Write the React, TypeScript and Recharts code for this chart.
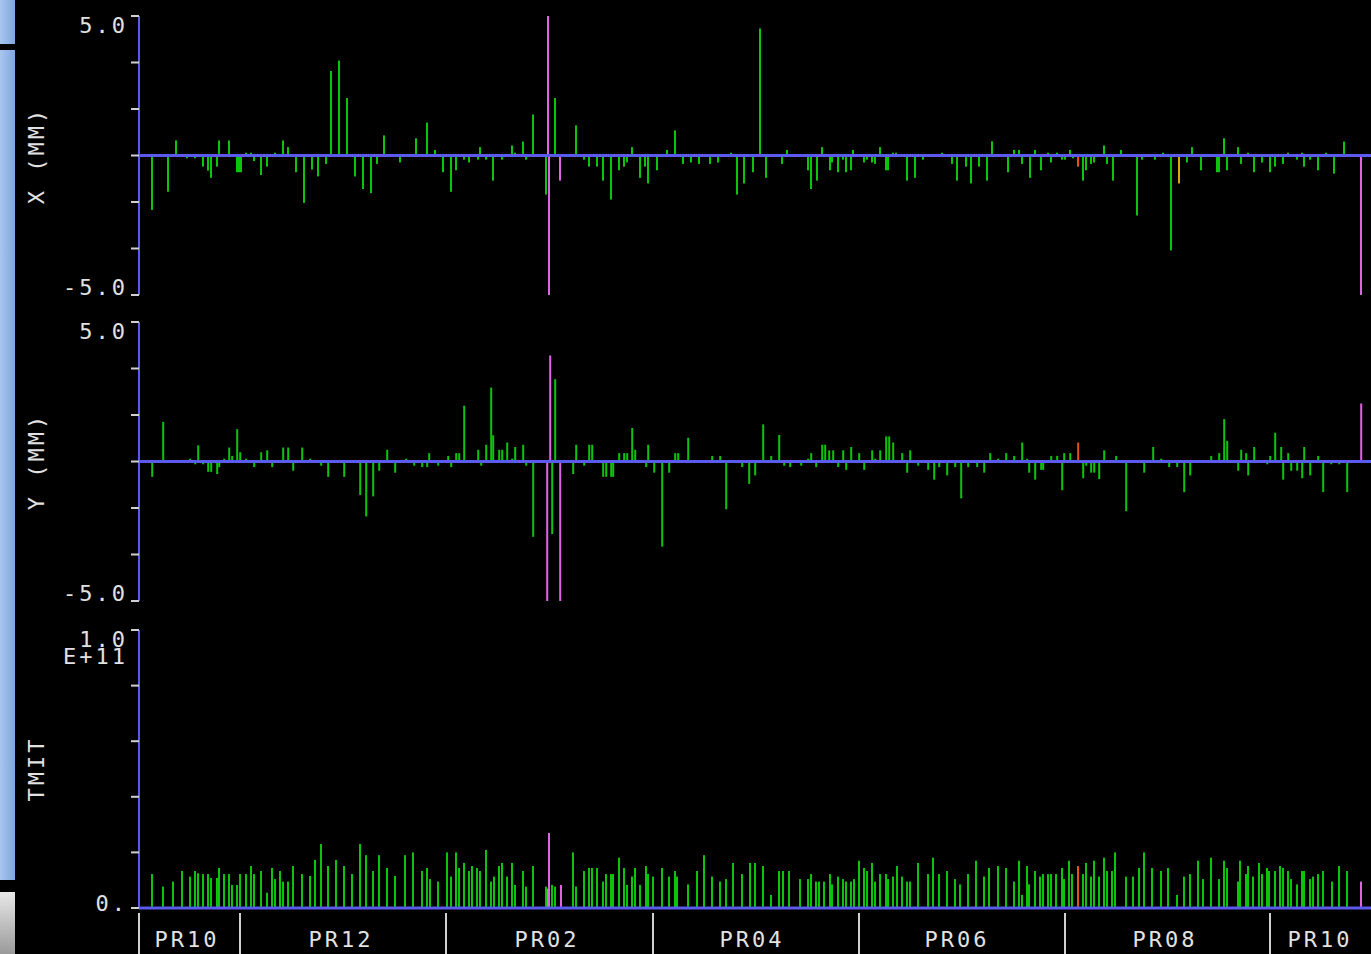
import React from "react";
import { BarChart, Bar, XAxis, YAxis, Cell, ReferenceLine, Label } from "recharts";

// ---------- data ----------
const S_MAX = 1232;
const prBoundaries = [0, 101, 307, 514, 720, 926, 1131];
const prCenters = [48, 202, 408, 613, 818, 1026, 1181];
const prNames = ["PR10", "PR12", "PR02", "PR04", "PR06", "PR08", "PR10"];

type Reading = [number, number];

// X position (mm) per BPM location s
const xReadings: Reading[] = [
  [13,-1.95],[29,-1.3],[37,0.54],[48,-0.1],[56,-0.1],[64,-0.4],[69,-0.54],[72,-0.8],[78,-0.4],[80,0.54],[90,0.54],[98,-0.6],[100,-0.6],[102,-0.6],[107,0.1],[112,0.1],[115,-0.2],[122,-0.7],[128,-0.4],[136,0.1],[144,0.54],[149,0.3],[157,-0.6],[165,-1.7],[173,-0.5],[179,-0.75],[187,-0.3],[192,3.03],[200,3.4],[208,2.06],[216,-0.75],[224,-1.2],[232,-1.35],[238,-0.3],[245,0.72],[253,0.05],[261,-0.25],[277,0.62],[288,1.18],[296,0.2],[304,-0.6],[312,-1.3],[317,-0.53],[325,-0.15],[330,-0.25],[339,-0.15],[341,0.3],[347,-0.15],[354,-0.9],[363,-0.15],[368,0.05],[373,0.36],[376,0.1],[384,0.5],[387,-0.15],[394,1.47],[407,-1.4],[409,5],[410,-5],[416,2.06],[421,-0.9],[437,1.08],[445,-0.15],[450,-0.4],[458,-0.4],[464,-0.9],[472,-1.58],[480,-0.53],[485,-0.4],[488,-0.25],[493,0.3],[501,-0.8],[506,-0.4],[509,-1.0],[518,-0.53],[528,0.2],[536,0.9],[544,-0.3],[552,-0.25],[560,-0.3],[571,-0.3],[579,-0.25],[592,0.1],[598,-1.4],[605,-1.0],[614,-0.6],[621,4.55],[627,-0.8],[643,-0.3],[648,0.2],[656,0.05],[669,-0.53],[672,-1.2],[678,-0.9],[683,0.3],[691,-0.53],[693,-0.25],[699,-0.6],[704,-0.15],[707,-0.6],[712,-0.53],[714,0.2],[725,-0.25],[728,-0.15],[733,-0.25],[736,-0.3],[741,0.3],[747,-0.53],[749,-0.53],[754,0.1],[757,0.1],[768,-0.9],[776,-0.8],[784,-0.15],[803,0.1],[813,-0.3],[818,-0.9],[827,-0.4],[832,-1.0],[840,-0.4],[848,-0.9],[853,0.51],[869,-0.6],[875,0.2],[880,0.2],[883,-0.3],[891,-0.8],[896,0.2],[902,-0.53],[904,0.05],[909,0.1],[912,-0.25],[918,0.1],[923,-0.15],[926,-0.15],[931,0.2],[934,-0.1],[939,-0.4],[944,-0.9],[947,-0.53],[952,-0.3],[955,-0.25],[965,0.36],[968,-0.3],[974,-0.9],[982,0.2],[990,0.05],[998,-2.15],[1003,-0.15],[1016,-0.15],[1024,0.1],[1032,-3.4],[1040,-1.0],[1048,-0.25],[1053,0.3],[1062,-0.53],[1067,0.05],[1078,-0.6],[1080,-0.6],[1085,0.62],[1088,-0.53],[1099,0.3],[1102,-0.3],[1109,0.1],[1115,-0.6],[1123,-0.25],[1131,-0.6],[1136,-0.4],[1144,-0.3],[1149,0.1],[1158,-0.15],[1163,0.1],[1165,-0.4],[1171,-0.15],[1179,-0.53],[1187,0.1],[1195,-0.65],[1205,0.5],[1222,-5],
];

// Y position (mm)
const yReadings: Reading[] = [
  [13,-0.55],[24,1.42],[34,0.05],[43,0.03],[51,0.1],[56,-0.1],[59,0.58],[64,-0.1],[69,-0.37],[72,-0.37],[78,-0.45],[80,-0.2],[85,0.1],[90,0.5],[93,0.2],[98,1.16],[101,0.33],[107,0.1],[115,-0.2],[122,0.33],[128,0.4],[133,-0.2],[144,0.5],[149,0.5],[154,-0.33],[163,0.5],[171,0.1],[176,0.03],[182,-0.15],[189,-0.55],[197,0.03],[205,-0.55],[221,-1.2],[227,-1.97],[234,-1.25],[240,-0.33],[248,0.42],[256,-0.4],[267,0.1],[275,-0.15],[283,-0.2],[288,-0.2],[290,0.3],[299,-0.15],[309,0.2],[312,-0.2],[317,0.3],[320,0.3],[325,2.0],[333,-0.05],[339,0.42],[342,-0.15],[347,0.6],[352,2.65],[354,0.94],[360,0.42],[363,0.42],[368,0.68],[373,0.1],[376,0.52],[384,0.6],[387,-0.15],[394,-2.7],[408,-5],[411,3.8],[413,-2.6],[416,2.95],[421,-5],[434,-0.45],[437,0.6],[445,-0.15],[450,0.6],[453,0.6],[464,-0.55],[467,-0.55],[472,-0.55],[474,-0.55],[480,0.3],[485,0.3],[488,0.3],[493,1.2],[496,0.42],[507,-0.2],[509,0.6],[515,-0.4],[523,-3.05],[530,-0.4],[536,0.3],[539,0.3],[549,0.85],[573,0.2],[581,0.2],[587,-1.71],[603,-0.2],[610,-0.8],[616,-0.5],[624,1.33],[632,0.2],[640,0.95],[645,-0.15],[651,-0.2],[662,-0.15],[669,0.1],[672,0.3],[677,-0.2],[683,0.6],[686,0.6],[690,0.4],[694,0.4],[699,-0.2],[704,0.4],[707,-0.3],[712,0.52],[720,0.3],[725,-0.3],[733,0.4],[736,0.1],[741,0.4],[747,0.9],[750,0.9],[754,0.68],[763,0.3],[768,-0.4],[771,0.4],[779,-0.15],[789,-0.3],[795,-0.65],[800,-0.2],[808,-0.5],[816,-0.2],[822,-1.32],[829,-0.2],[838,-0.2],[845,-0.4],[851,0.3],[859,0.1],[867,0.3],[875,0.2],[883,0.68],[888,0.1],[890,-0.4],[896,-0.65],[902,-0.3],[904,-0.3],[912,0.2],[918,0.2],[923,-1.03],[925,0.3],[931,0.3],[934,0.05],[939,0.68],[944,-0.6],[947,-0.15],[952,-0.4],[955,-0.4],[960,-0.63],[965,0.4],[974,0.05],[977,0.2],[987,-1.78],[998,0.05],[1005,-0.4],[1014,0.52],[1022,0.1],[1030,-0.2],[1038,-0.2],[1045,-1.1],[1051,-0.5],[1072,0.2],[1080,0.3],[1085,1.52],[1088,0.74],[1099,-0.33],[1102,0.42],[1107,0.3],[1109,-0.5],[1115,0.52],[1123,0.05],[1128,-0.1],[1131,0.2],[1136,1.03],[1142,0.52],[1144,-0.65],[1149,0.3],[1152,-0.33],[1158,-0.33],[1163,-0.6],[1165,0.52],[1171,-0.5],[1179,0.2],[1184,-1.1],[1192,-0.1],[1200,-0.1],[1208,-1.1],[1222,2.08],
];

// TMIT (units of 1E11)
const tmitReadings: Reading[] = [
  [13,0.122],[24,0.077],[34,0.095],[43,0.133],[51,0.113],[56,0.133],[59,0.125],[64,0.122],[69,0.122],[72,0.108],[78,0.108],[80,0.144],[85,0.122],[90,0.122],[93,0.083],[98,0.083],[101,0.122],[107,0.122],[112,0.151],[115,0.122],[122,0.133],[128,0.055],[133,0.144],[136,0.104],[141,0.133],[144,0.095],[149,0.095],[154,0.151],[163,0.122],[171,0.115],[176,0.173],[182,0.23],[189,0.151],[197,0.173],[205,0.151],[213,0.122],[221,0.23],[227,0.19],[234,0.133],[240,0.19],[248,0.144],[256,0.115],[266,0.19],[274,0.2],[283,0.133],[288,0.144],[291,0.104],[299,0.095],
  [308,0.2],[312,0.113],[317,0.2],[320,0.144],[325,0.162],[330,0.133],[333,0.151],[338,0.144],[341,0.133],[347,0.209],[352,0.095],[355,0.113],[360,0.151],[363,0.162],[368,0.113],[373,0.162],[376,0.083],[384,0.133],[387,0.077],[394,0.151],[407,0.077],[409,0.07],[410,0.27],[413,0.083],[416,0.077],[422,0.083],[434,0.2],[437,0.077],[445,0.133],[450,0.144],[453,0.144],[458,0.144],[464,0.095],[467,0.122],[472,0.122],[474,0.122],[480,0.181],[485,0.144],[488,0.083],[493,0.113],[496,0.144],[501,0.083],[507,0.151],[509,0.122],[514,0.113],[523,0.144],[530,0.113],[536,0.133],[538,0.113],[549,0.085],[558,0.133],[565,0.19],[573,0.113],[581,0.095],[587,0.104],[594,0.162],[603,0.122],[611,0.162],[616,0.162],[624,0.151],[632,0.047],[640,0.133],[644,0.133],[650,0.133],[661,0.104],[669,0.104],[672,0.122],[677,0.095],[680,0.095],[685,0.095],[691,0.122],[693,0.085],[699,0.113],[704,0.104],[707,0.095],[712,0.095],[715,0.104],[720,0.17],[725,0.144],[728,0.133],[733,0.162],[736,0.095],[741,0.122],[747,0.122],[749,0.104],[754,0.113],[758,0.151],
  [763,0.113],[768,0.095],[771,0.095],[779,0.162],[789,0.122],[794,0.181],[800,0.122],[808,0.133],[816,0.104],[821,0.085],[829,0.122],[837,0.17],[845,0.113],[850,0.144],[859,0.151],[867,0.144],[875,0.095],[880,0.17],[883,0.047],[888,0.151],[890,0.085],[896,0.133],[901,0.113],[904,0.122],[909,0.122],[912,0.122],[917,0.122],[923,0.144],[925,0.104],[930,0.17],[933,0.122],[939,0.151],[944,0.122],[947,0.162],[952,0.113],[955,0.17],[960,0.113],[965,0.181],[968,0.133],[973,0.133],[976,0.2],[987,0.113],[994,0.113],[1000,0.144],[1005,0.2],[1013,0.144],[1022,0.133],[1029,0.144],[1038,0.047],[1045,0.113],[1051,0.122],[1059,0.17],[1064,0.104],[1072,0.181],[1080,0.104],[1085,0.17],[1088,0.144],[1099,0.095],[1101,0.17],[1107,0.122],[1109,0.151],[1114,0.113],[1120,0.162],[1123,0.122],[1128,0.144],[1130,0.133],[1136,0.133],[1141,0.151],[1144,0.144],[1149,0.133],[1152,0.104],[1158,0.085],[1163,0.133],[1165,0.133],[1171,0.104],[1174,0.113],[1179,0.122],[1184,0.133],[1193,0.095],[1200,0.151],[1208,0.133],[1222,0.095],
];

// status flags by location
const xBad = [409, 410, 421, 1222];
const yBad = [408, 411, 421, 1222];
const tmitBad = [409, 410, 422, 1222];
const warnLocations = [939];
const xCaution = [1040];

// ---------- styling ----------
const AXIS_BLUE = "#5a5aec";
const TICK_GRAY = "#d0d0d0";
const TEXT = "#e2e2e2";
const FONT = "'DejaVu Sans Mono', monospace";
const BAR_W = 2;
const COLORS: Record<string, string> = {
  ok: "#0cc40c",
  bad: "#e062e6",
  warn: "#e4521c",
  caution: "#d6aa00",
};

function buildSeries(readings: Reading[], bad: number[], warn: number[], caution: number[]) {
  return readings.map(([s, v]) => ({
    s,
    v,
    status: bad.includes(s) ? "bad" : warn.includes(s) ? "warn" : caution.includes(s) ? "caution" : "ok",
  }));
}

const xData = buildSeries(xReadings, xBad, warnLocations, xCaution);
const yData = buildSeries(yReadings, yBad, warnLocations, []);
const tData = buildSeries(tmitReadings, tmitBad, warnLocations, []);

const textProps = {
  fill: TEXT,
  fontFamily: FONT,
  fontSize: 22,
  letterSpacing: 3,
};

// bar shape: keep recharts' computed centre and value extent, fixed stroke-like width
const LineBar = (props: any) => {
  const { x, y, width, height, fill } = props;
  if (x == null || y == null || height == null) return <g />;
  const cx = x + (width || 0) / 2;
  const top = Math.min(y, y + height);
  const h = Math.abs(height);
  return <rect x={cx - BAR_W / 2} y={top} width={BAR_W} height={h} fill={fill} />;
};

function makeValueTick(max: number, min: number, topLines: string[], bottomLines: string[], bottomOffset: number) {
  return (props: any) => {
    const { x, y, payload } = props;
    const v = payload.value;
    let lines: string[] = [];
    let y0 = 0;
    if (Math.abs(v - max) < 1e-6) {
      lines = topLines;
      y0 = y + 9;
    } else if (Math.abs(v - min) < 1e-6) {
      lines = bottomLines;
      y0 = y - bottomOffset;
    }
    if (!lines.length) return <g />;
    return (
      <g>
        {lines.map((t, i) => (
          <text key={i} x={x} y={y0 + i * 17} textAnchor="end" dominantBaseline="central" {...textProps}>
            {t}
          </text>
        ))}
      </g>
    );
  };
}

function axisTitle(title: string) {
  return (props: any) => {
    const vb = props.viewBox || {};
    const cx = 36;
    const cy = (vb.y || 0) + (vb.height || 0) / 2;
    return (
      <text
        x={cx}
        y={cy}
        transform={`rotate(-90 ${cx} ${cy})`}
        textAnchor="middle"
        dominantBaseline="central"
        {...textProps}
      >
        {title}
      </text>
    );
  };
}

const PrTick = (props: any) => {
  const { x, y, payload } = props;
  const v = payload.value;
  if (prBoundaries.includes(v)) {
    return <line x1={x} x2={x} y1={y + 5} y2={y + 50} stroke={TICK_GRAY} strokeWidth={2} />;
  }
  const ci = prCenters.indexOf(v);
  if (ci >= 0) {
    return (
      <text x={x} y={y + 31} textAnchor="middle" dominantBaseline="central" {...textProps}>
        {prNames[ci]}
      </text>
    );
  }
  return <g />;
};

const mmTicks = [-5, -10 / 3, -5 / 3, 0, 5 / 3, 10 / 3, 5];
const tmitTicks = [0, 0.2, 0.4, 0.6, 0.8, 1.0];
const prTicks = [...prBoundaries, ...prCenters].sort((a, b) => a - b);

function MmPanel({ data, title }: { data: any[]; title: string }) {
  return (
    <BarChart width={1371} height={310} data={data} margin={{ top: 16, right: 0, bottom: 15, left: 0 }}>
      <XAxis type="number" dataKey="s" domain={[0, S_MAX]} hide />
      <YAxis
        type="number"
        domain={[-5, 5]}
        allowDataOverflow
        ticks={mmTicks}
        interval={0}
        width={139}
        tickSize={8}
        tickMargin={3}
        axisLine={{ stroke: AXIS_BLUE, strokeWidth: 2 }}
        tickLine={{ stroke: TICK_GRAY, strokeWidth: 2 }}
        tick={makeValueTick(5, -5, ["5.0"], ["-5.0"], 8)}
      >
        <Label content={axisTitle(title)} />
      </YAxis>
      <Bar dataKey="v" isAnimationActive={false} shape={LineBar}>
        {data.map((d, i) => (
          <Cell key={i} fill={COLORS[d.status]} />
        ))}
      </Bar>
      <ReferenceLine y={0} stroke={AXIS_BLUE} strokeWidth={3} />
    </BarChart>
  );
}

export default function App() {
  return (
    <div
      style={{
        position: "absolute",
        left: 0,
        top: 0,
        width: 1371,
        height: 954,
        background: "#000",
        overflow: "hidden",
      }}
    >
      {/* left window strip */}
      <div style={{ position: "absolute", left: 0, top: 0, width: 15, height: 44, background: "linear-gradient(90deg,#a9c6ee,#7fa6e2)" }} />
      <div style={{ position: "absolute", left: 0, top: 50, width: 15, height: 830, background: "linear-gradient(90deg,#a9c6ee,#7fa6e2)" }} />
      <div style={{ position: "absolute", left: 0, top: 892, width: 15, height: 62, background: "linear-gradient(180deg,#e8e8e8,#9a9a9a)" }} />

      <div style={{ position: "absolute", left: 0, top: 0 }}>
        <MmPanel data={xData} title="X (MM)" />
      </div>
      <div style={{ position: "absolute", left: 0, top: 306 }}>
        <MmPanel data={yData} title="Y (MM)" />
      </div>
      <div style={{ position: "absolute", left: 0, top: 614 }}>
        <BarChart width={1371} height={340} data={tData} margin={{ top: 16, right: 0, bottom: 0, left: 0 }}>
          <XAxis
            type="number"
            dataKey="s"
            domain={[0, S_MAX]}
            ticks={prTicks}
            interval={0}
            height={46}
            tickSize={0}
            tickMargin={0}
            tickLine={false}
            axisLine={{ stroke: AXIS_BLUE, strokeWidth: 3 }}
            tick={PrTick}
          />
          <YAxis
            type="number"
            domain={[0, 1]}
            allowDataOverflow
            ticks={tmitTicks}
            interval={0}
            width={139}
            tickSize={8}
            tickMargin={3}
            axisLine={{ stroke: AXIS_BLUE, strokeWidth: 2 }}
            tickLine={{ stroke: TICK_GRAY, strokeWidth: 2 }}
            tick={makeValueTick(1, 0, ["1.0", "E+11"], ["0."], 5)}
          >
            <Label content={axisTitle("TMIT")} />
          </YAxis>
          <Bar dataKey="v" isAnimationActive={false} shape={LineBar}>
            {tData.map((d, i) => (
              <Cell key={i} fill={COLORS[d.status]} />
            ))}
          </Bar>
        </BarChart>
      </div>
    </div>
  );
}
